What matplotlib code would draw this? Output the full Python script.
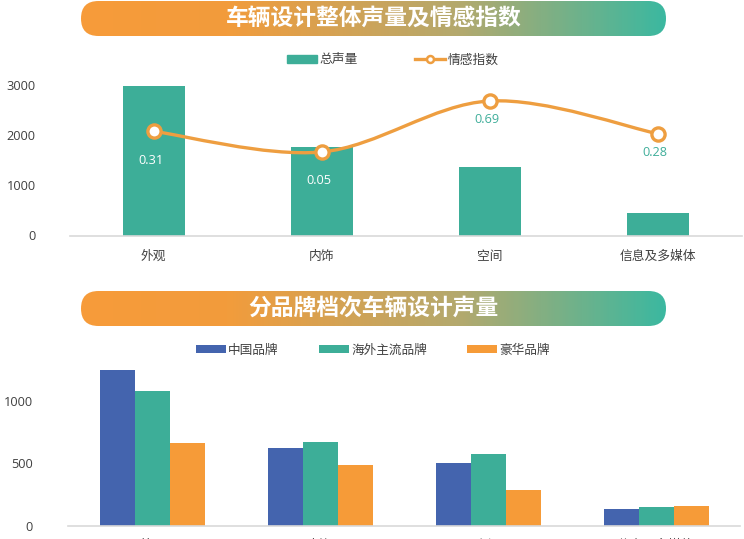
import numpy as np
import matplotlib
matplotlib.use("Agg")
import matplotlib.pyplot as plt
from matplotlib.colors import LinearSegmentedColormap
from matplotlib.lines import Line2D
from matplotlib.patches import FancyBboxPatch, Patch, PathPatch
from matplotlib.path import Path

plt.rcParams['font.family'] = ['Open Sans', 'Noto Sans CJK SC', 'DejaVu Sans']

categories = ['外观', '内饰', '空间', '信息及多媒体']
volume = [2990, 1780, 1380, 460]
sentiment = [0.31, 0.05, 0.69, 0.28]
sent_labels = ['0.31', '0.05', '0.69', '0.28']
sent_label_colors = ['white', 'white', '#3FAE9A', '#3FAE9A']
china = [1253, 622, 505, 136]
overseas = [1077, 668, 577, 149]
luxury = [665, 487, 285, 160]
title_top = '车辆设计整体声量及情感指数'
title_bottom = '分品牌档次车辆设计声量'

W, H = 744, 539
TEAL, ORANGE, BLUE = '#3DAE98', '#F69B38', '#4464AE'
LINE_ORANGE = '#EE9E40'
TEXT = '#404040'
FS = 9.2


def px_axes(fig, x0, x1, ytop, ybot):
    return fig.add_axes([x0 / W, 1 - ybot / H, (x1 - x0) / W, (ybot - ytop) / H])


def banner(fig, x0, x1, ytop, ybot, text):
    ax = fig.add_axes([0, 0, 1, 1], zorder=5)
    ax.set_xlim(0, W)
    ax.set_ylim(H, 0)
    ax.axis('off')
    cmap = LinearSegmentedColormap.from_list(
        'b', [(0, '#F79B3A'), (0.25, '#F29C3C'), (0.65, '#B3A96E'), (1, '#3CB8A0')])
    img = ax.imshow(np.linspace(0, 1, 300)[None, :], cmap=cmap, aspect='auto',
                    extent=(x0, x1, ybot, ytop), interpolation='bilinear')
    r = (ybot - ytop) / 2
    clip = FancyBboxPatch((x0 + r, ytop + r), x1 - x0 - 2 * r, 0,
                          boxstyle=f'round,pad={r},rounding_size={r}',
                          transform=ax.transData, fc='none', ec='none')
    ax.add_patch(clip)
    img.set_clip_path(clip)
    ax.set_xlim(0, W)
    ax.set_ylim(H, 0)
    ax.text((x0 + x1) / 2, (ytop + ybot) / 2 - 0.5, text, color='white', fontsize=16.4,
            fontweight='bold', ha='center', va='center', family=['Noto Sans CJK SC'])


def style(ax, pad_y):
    for s in ('top', 'right', 'left'):
        ax.spines[s].set_visible(False)
    ax.spines['bottom'].set_color('#D9D9D9')
    ax.spines['bottom'].set_linewidth(1.2)
    ax.tick_params(axis='both', length=0, labelsize=FS, labelcolor=TEXT)
    ax.tick_params(axis='y', pad=pad_y)
    ax.set_facecolor('none')


def smooth_path(xs, ys, k=1 / 6):
    """Catmull-Rom curve through the data points, as Bezier segments."""
    xs, ys = np.asarray(xs, float), np.asarray(ys, float)
    v = [(xs[0], ys[0])]
    c = [Path.MOVETO]
    n = len(xs)
    for i in range(n - 1):
        p0 = (i - 1) if i > 0 else i
        p3 = (i + 2) if i + 2 < n else i + 1
        v.append((xs[i] + (xs[i + 1] - xs[p0]) * k, ys[i] + (ys[i + 1] - ys[p0]) * k))
        v.append((xs[i + 1] - (xs[p3] - xs[i]) * k, ys[i + 1] - (ys[p3] - ys[i]) * k))
        v.append((xs[i + 1], ys[i + 1]))
        c += [Path.CURVE4] * 3
    return Path(v, c)


fig = plt.figure(figsize=(W / 100, H / 100), dpi=100, facecolor='white')

# top chart
ax = px_axes(fig, 69.5, 741.5, 85.5, 235.5)
x = np.arange(len(categories))
ax.bar(x, volume, width=62 / 168, color=TEAL, zorder=2)
ax.set_xlim(-0.5, len(categories) - 0.5)
ax.set_ylim(0, 3000)
ax.set_yticks([0, 1000, 2000, 3000])
ax.set_xticks(x, categories)
ax.tick_params(axis='x', pad=10.5)
style(ax, 24.5)

ax2 = ax.twinx()
ax2.set_ylim(0.05 - (235.5 - 152) / 79.7, 0.05 + (152 - 85.5) / 79.7)
ax2.axis('off')
ax2.add_patch(PathPatch(smooth_path(x, sentiment), fc='none', ec=LINE_ORANGE, lw=2.4, zorder=3))
ax2.plot(x, sentiment, ls='none', marker='o', ms=9.5, mfc='white', mec=LINE_ORANGE, mew=2.4, zorder=4)
for xi, yi, s, col in zip(x, sentiment, sent_labels, sent_label_colors):
    # labels over a bar sit further below their point than labels on the white ground
    dy = -29 if col == 'white' else -18.5
    ax2.annotate(s, (xi, yi), xytext=(-2.5, dy), textcoords='offset pixels', ha='center',
                 va='center', color=col, fontsize=FS, zorder=5)

h1 = [Patch(color=TEAL, label='总声量'),
      Line2D([], [], color=LINE_ORANGE, lw=2.4, marker='o', ms=5, mfc='white', mec=LINE_ORANGE, mew=1.8,
             label='情感指数')]
fig.legend(handles=h1, ncols=2, loc='center', bbox_to_anchor=(392.5 / W, 1 - 60 / H), frameon=False,
           fontsize=FS, labelcolor=TEXT, handlelength=2.35, handleheight=0.55, handletextpad=0.2,
           columnspacing=4.5, borderpad=0, borderaxespad=0)

# bottom chart
ax3 = px_axes(fig, 68, 740, 370, 526)
w = 35 / 168
ax3.bar(x - w, china, width=w, color=BLUE, zorder=2, label='中国品牌')
ax3.bar(x, overseas, width=w, color=TEAL, zorder=2, label='海外主流品牌')
ax3.bar(x + w, luxury, width=w, color=ORANGE, zorder=2, label='豪华品牌')
ax3.set_xlim(-0.5, len(categories) - 0.5)
ax3.set_ylim(0, 156 / 0.1253)
ax3.set_yticks([0, 500, 1000])
ax3.set_xticks(x, categories)
ax3.tick_params(axis='x', pad=9.5)
style(ax3, 25.5)
h, l = ax3.get_legend_handles_labels()
fig.legend(h, l, ncols=3, loc='center', bbox_to_anchor=(373 / W, 1 - 350 / H), frameon=False,
           fontsize=9.1, labelcolor=TEXT, handlelength=2.35, handleheight=0.55, handletextpad=0.2,
           columnspacing=3.2, borderpad=0, borderaxespad=0)

banner(fig, 81, 666, 1, 36, title_top)
banner(fig, 81, 666, 291, 326, title_bottom)

fig.savefig('out.png', dpi=100, facecolor='white')
